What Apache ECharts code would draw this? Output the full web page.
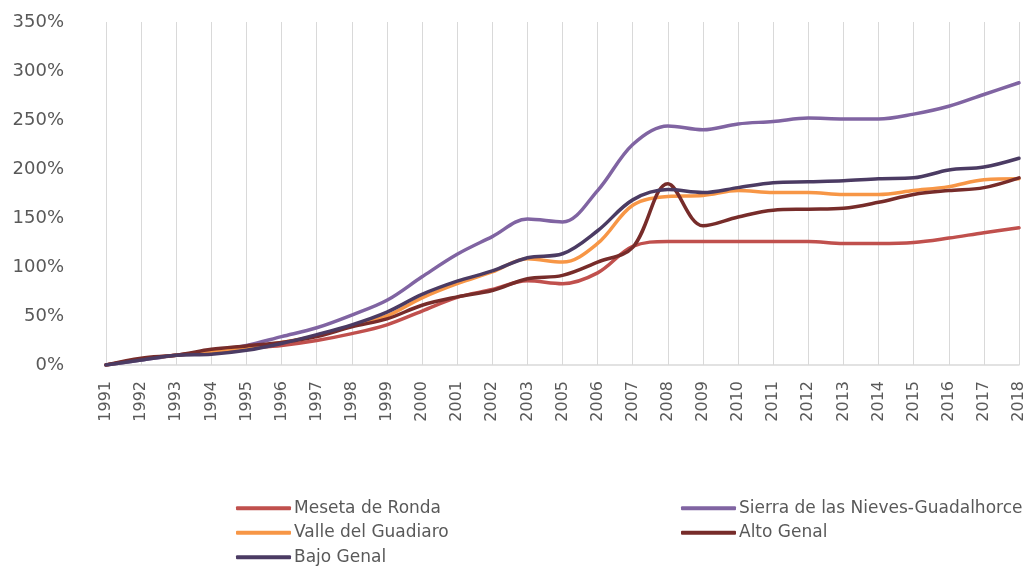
<!DOCTYPE html>
<html>
<head>
<meta charset="utf-8">
<script src="https://cdn.jsdelivr.net/npm/echarts@6/dist/echarts.min.js"></script>
<style>html,body{margin:0;padding:0;background:#fff}#c{width:1027px;height:568px}</style>
</head>
<body>
<div id="c"></div>
<script>
const categories = ['1991','1992','1993','1994','1995','1996','1997','1998','1999','2000','2001','2002','2003','2005','2006','2007','2008','2009','2010','2011','2012','2013','2014','2015','2016','2017','2018'];
const yTicks = [0, 50, 100, 150, 200, 250, 300, 350];
const mesetaDeRonda = [0, 6, 10, 13.5, 17, 20, 25, 32, 41, 55, 69, 77, 86, 83, 94, 121, 126, 126, 126, 126, 126, 124, 124, 125, 129.5, 135, 140];
const sierraNieves = [0, 5, 10, 14, 20, 29, 38, 51, 66, 90, 113, 131, 149, 146, 178, 225, 244, 240, 246, 248.5, 252, 251, 251, 256, 264, 276, 288];
const valleGuadiaro = [0, 6, 10, 14, 18, 23, 30, 40, 50, 68.5, 83, 95, 108.5, 105, 124, 163, 172, 173, 178, 176, 176, 174, 174, 178, 182, 189, 190];
const altoGenal = [0, 7, 10, 16, 19.5, 23, 29, 39, 47, 61, 69.5, 76, 88, 91.5, 105, 120, 185, 142, 151, 158, 159, 160, 166, 174, 178, 181, 191];
const bajoGenal = [0, 5, 10, 11, 15, 22, 31, 41, 54, 72, 85.5, 96, 109.5, 113.5, 137, 168.5, 179, 176, 181, 186, 187, 188, 190, 191, 199, 202, 211];

const names = ['Meseta de Ronda','Sierra de las Nieves-Guadalhorce','Valle del Guadiaro','Alto Genal','Bajo Genal'];
const colors = ['#C0504D','#8064A2','#F79646','#772C2A','#4B3B63'];
const datas = [mesetaDeRonda, sierraNieves, valleGuadiaro, altoGenal, bajoGenal];
const FONT = 'DejaVu Sans';

const chart = echarts.init(document.getElementById('c'), null, {renderer:'canvas'});
const legendCommon = {
  orient: 'vertical',
  icon: 'roundRect',
  itemWidth: 55,
  itemHeight: 4,
  itemGap: 0,
  top: 496,
  height: 120,
  textStyle: {fontFamily: FONT, fontSize: 17, color: '#595959', lineHeight: 24.5, padding: [0,0,0,-2]},
  padding: 0
};
chart.setOption({
  animation: false,
  color: colors,
  grid: {left: 106, right: 6, top: 22, bottom: 203, containLabel: false},
  legend: [
    Object.assign({}, legendCommon, {left: 236, data: [names[0], names[2], names[4]]}),
    Object.assign({}, legendCommon, {left: 681, data: [names[1], names[3]]})
  ],
  xAxis: {
    type: 'category',
    data: categories,
    boundaryGap: false,
    axisLine: {lineStyle: {color: '#D9D9D9', width: 1.5}},
    axisTick: {show: false},
    splitLine: {show: true, interval: 0, lineStyle: {color: '#D9D9D9', width: 1}},
    axisLabel: {rotate: 90, interval: 0, margin: 16, fontFamily: FONT, fontSize: 16, color: '#595959'}
  },
  yAxis: {
    type: 'value',
    min: yTicks[0],
    max: yTicks[yTicks.length - 1],
    interval: 50,
    axisLine: {show: false},
    axisTick: {show: false},
    splitLine: {show: false},
    axisLabel: {margin: 42, fontFamily: FONT, fontSize: 18, color: '#595959', formatter: '{value}%'}
  },
  series: names.map((n, i) => ({
    name: n,
    type: 'line',
    data: datas[i],
    smooth: 0.35,
    showSymbol: false,
    symbol: 'none',
    lineStyle: {width: 3.5, color: colors[i], cap: 'round'}
  }))
});
</script>
</body>
</html>
